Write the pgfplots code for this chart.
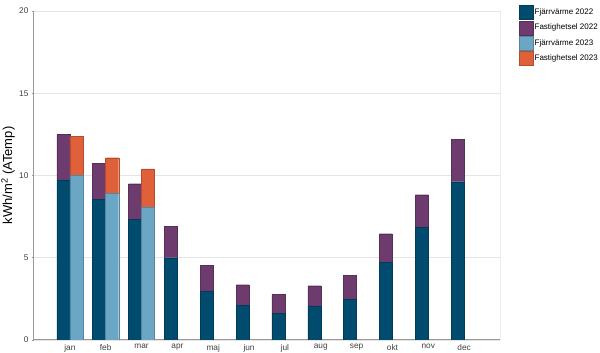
\documentclass[border=0pt]{standalone}
\usepackage{fontspec}
\setmainfont{Liberation Sans}
\usepackage{pgfplots}
\pgfplotsset{compat=1.18}
\definecolor{fja}{HTML}{004B6E}
\definecolor{faa}{HTML}{6E3B6E}
\definecolor{fjb}{HTML}{6BA7C4}
\definecolor{fab}{HTML}{E0603A}
\begin{document}
\begin{tikzpicture}
\path[use as bounding box] (-34pt,-13pt) rectangle (566pt,340pt);
\pgfplotsset{base/.style={
  scale only axis, width=466pt, height=329pt,
  at={(0pt,0pt)}, anchor=south west,
  xmin=-1, xmax=12, ymin=0, ymax=20,
  ybar stacked, bar width=0.363, bar shift=0pt,
  /pgf/number format/assume math mode=true,
}}
\begin{axis}[base,
  axis x line*=bottom, axis y line*=left,
  axis line style={color=black!40, line width=1pt},
  ytick={0,5,10,15,20},
  ymajorgrids, major grid style={color=black!10, line width=0.8pt},
  xtick={0,...,11},
  xticklabels={jan,feb,mar,apr,maj,jun,jul,aug,sep,okt,nov,dec},
  x tick style={draw=none},
  y tick style={color=black!40, line width=0.8pt},
  major tick length=2pt, tick align=outside,
  tick label style={font=\fontsize{8.3}{9}\selectfont, color=black!75},
  xticklabel style={yshift=1.5pt},
  extra x ticks={12}, extra x tick labels={},
  extra x tick style={grid=major, major grid style={color=black!8, line width=0.8pt}},
  ylabel={kWh/m\textsuperscript{2} (ATemp)},
  ylabel style={font=\fontsize{13}{15}\selectfont, at={(axis description cs:-0.0558,0.5)}, anchor=center},
  legend style={at={(axis description cs:1.0408,1.0182)}, anchor=north west,
    draw=none, fill=none, font=\fontsize{8}{9}\selectfont, row sep=1pt, inner sep=0pt,
    nodes={inner sep=1pt}},
  legend cell align=left,
  legend image code/.code={\draw[#1] (0pt,-7pt) rectangle (14pt,7pt);},
]
\addplot[fill=fja, draw=fja!80!black, line width=0.4pt] coordinates {
 (-0.1815,9.73) (0.8185,8.55) (1.8185,7.34) (2.8185,5.0) (3.8185,2.98) (4.8185,2.11)
 (5.8185,1.6) (6.8185,2.07) (7.8185,2.45) (8.8185,4.7) (9.8185,6.83) (10.8185,9.62)};
\addlegendentry{Fjärrvärme 2022}
\addplot[fill=faa, draw=faa!80!black, line width=0.4pt] coordinates {
 (-0.1815,2.77) (0.8185,2.17) (1.8185,2.16) (2.8185,1.91) (3.8185,1.56) (4.8185,1.25)
 (5.8185,1.18) (6.8185,1.23) (7.8185,1.5) (8.8185,1.76) (9.8185,2.0) (10.8185,2.56)};
\addlegendentry{Fastighetsel 2022}
\addlegendimage{fill=fjb, draw=fjb!80!black, line width=0.4pt}
\addlegendentry{Fjärrvärme 2023}
\addlegendimage{fill=fab, draw=fab!80!black, line width=0.4pt}
\addlegendentry{Fastighetsel 2023}
\end{axis}
\begin{axis}[base, hide axis]
\addplot[fill=fjb, draw=fjb!80!black, line width=0.4pt] coordinates {
 (0.1815,10.0) (1.1815,8.92) (2.1815,8.1)};
\addplot[fill=fab, draw=fab!80!black, line width=0.4pt] coordinates {
 (0.1815,2.38) (1.1815,2.16) (2.1815,2.31)};
\end{axis}
\end{tikzpicture}
\end{document}
